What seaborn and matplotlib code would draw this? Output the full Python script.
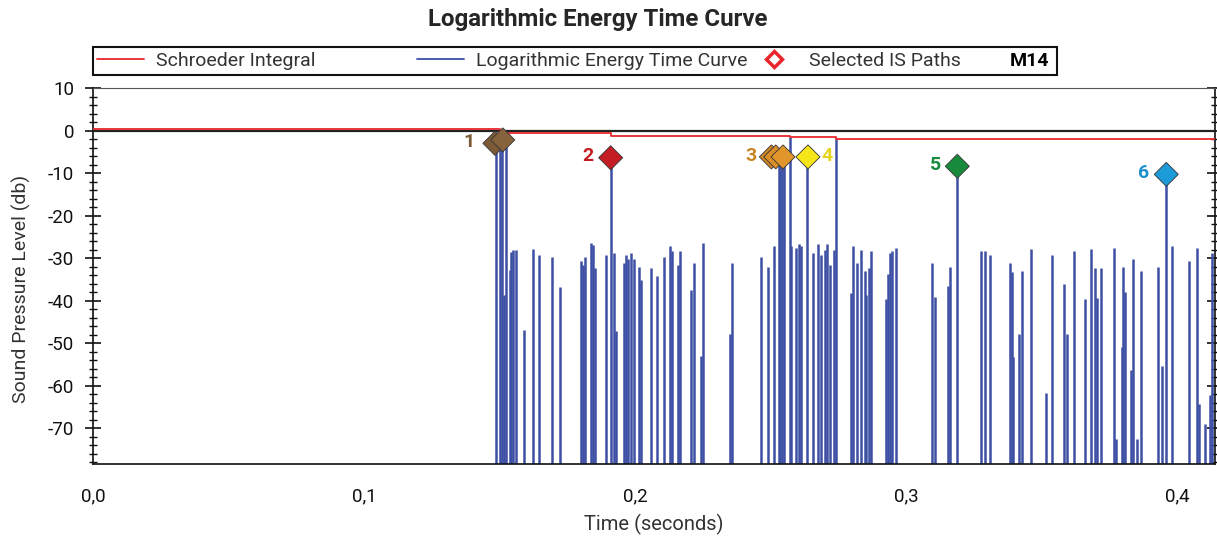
import numpy as np
import pandas as pd
import seaborn as sns
import matplotlib
matplotlib.use("Agg")
import matplotlib.pyplot as plt
from matplotlib.ticker import MultipleLocator, FuncFormatter
from matplotlib.lines import Line2D
from matplotlib.patches import Rectangle

# ---------------- data ----------------
etc_time = [0.1488, 0.1503, 0.1510, 0.1517, 0.1525, 0.1537, 0.1544, 0.1550, 0.1561, 0.1589,
            0.1625, 0.1644, 0.1695, 0.1724, 0.1802, 0.1808, 0.1817, 0.1836, 0.1844, 0.1851,
            0.1894, 0.1910, 0.1923, 0.1929, 0.1959, 0.1966, 0.1974, 0.1986, 0.1995, 0.2015,
            0.2023, 0.2058, 0.2080, 0.2107, 0.2129, 0.2137, 0.2158, 0.2165, 0.2208, 0.2217,
            0.2244, 0.2251, 0.2349, 0.2357, 0.2464, 0.2492, 0.2514, 0.2530, 0.2536, 0.2542,
            0.2548, 0.2572, 0.2577, 0.2593, 0.2605, 0.2614, 0.2635, 0.2656, 0.2676, 0.2686,
            0.2700, 0.2707, 0.2721, 0.2734, 0.2741, 0.2798, 0.2803, 0.2819, 0.2833, 0.2848,
            0.2853, 0.2862, 0.2870, 0.2925, 0.2932, 0.2940, 0.2948, 0.2962, 0.3096, 0.3105,
            0.3155, 0.3162, 0.3189, 0.3276, 0.3290, 0.3311, 0.3383, 0.3390, 0.3396, 0.3417,
            0.3426, 0.3460, 0.3517, 0.3539, 0.3582, 0.3595, 0.3619, 0.3659, 0.3682, 0.3696,
            0.3705, 0.3718, 0.3768, 0.3774, 0.3796, 0.3802, 0.3808, 0.3831, 0.3838, 0.3852,
            0.3866, 0.3931, 0.3945, 0.3960, 0.3982, 0.4044, 0.4073, 0.4080, 0.4102, 0.4123,
            0.4130]
etc_db = [-3.0, -2.6, -2.4, -38.6, -2.2, -32.8, -28.5, -28.0, -28.0, -46.8,
          -27.9, -29.3, -29.7, -36.8, -30.6, -31.5, -29.7, -26.5, -26.9, -32.4,
          -29.3, -6.4, -28.9, -47.2, -31.1, -29.3, -30.1, -28.9, -30.1, -32.0,
          -35.1, -32.4, -34.2, -29.7, -27.1, -28.3, -31.5, -28.3, -37.5, -31.1,
          -53.1, -26.5, -47.8, -31.1, -29.7, -32.0, -27.1, -6.5, -6.5, -6.5,
          -6.5, -1.6, -27.1, -27.5, -26.6, -27.1, -6.2, -28.9, -26.6, -29.3,
          -28.0, -26.6, -31.7, -28.0, -2.0, -38.3, -27.1, -31.1, -28.0, -33.0,
          -38.6, -32.4, -28.3, -39.7, -33.8, -28.9, -28.3, -27.5, -31.1, -39.2,
          -36.5, -32.0, -8.4, -28.3, -28.3, -29.3, -31.1, -33.3, -53.2, -47.8,
          -33.0, -27.9, -61.8, -29.3, -36.1, -47.8, -28.3, -39.7, -27.9, -32.4,
          -39.3, -32.4, -27.5, -72.6, -50.9, -32.0, -37.9, -56.2, -30.1, -72.6,
          -33.0, -32.0, -55.4, -10.3, -27.1, -30.6, -27.5, -64.2, -69.1, -62.2,
          -28.7]

schroeder_time = [0.0, 0.150, 0.191, 0.257, 0.274, 0.414]
schroeder_db = [0.4, -0.6, -1.2, -1.6, -2.0, -2.0]

path_time = [0.1483, 0.1512, 0.1910, 0.2503, 0.2519, 0.2546, 0.2638, 0.3189, 0.3960]
path_db = [-3.0, -2.2, -6.4, -6.2, -6.2, -6.2, -6.2, -8.4, -10.3]
path_colors = ["#7b5a36", "#86633c", "#c41e24", "#d08626", "#d98e28", "#e0962a",
               "#f6e619", "#178a3c", "#1c9bd8"]

label_text = ["1", "2", "3", "4", "5", "6"]
label_time = [0.1483, 0.1910, 0.2503, 0.2638, 0.3189, 0.3960]
label_db = [-3.0, -6.4, -6.2, -6.2, -8.4, -10.3]
label_colors = ["#7b5a36", "#c41e24", "#c98524", "#e6d51c", "#178a3c", "#1c8fcc"]
label_offset = [-19, -16, -15, 14, -16, -16]

x_ticks = [0.0, 0.1, 0.2, 0.3, 0.4]
y_ticks = [10, 0, -10, -20, -30, -40, -50, -60, -70]

legend_labels = ["Schroeder Integral", "Logarithmic Energy Time Curve", "Selected IS Paths"]
case_label = "M14"

# ---------------- style ----------------
sns.set_theme(style="white")
plt.rcParams["font.family"] = ["Roboto", "DejaVu Sans"]
plt.rcParams["axes.unicode_minus"] = False

fig = plt.figure(figsize=(12.17, 5.36), dpi=100)
ax = fig.add_axes([0.0764, 0.1343, 0.9220, 0.7015])

ymin, ymax = -78.4, 10
ax.set_xlim(0, 0.414)
ax.set_ylim(ymin, ymax)

blue = "#3d50a4"
red = "#e8262b"
# ETC bars
ax.vlines(etc_time, ymin - 2, etc_db, color=blue, lw=1.8, zorder=2)

# zero line
ax.axhline(0, color="#222222", lw=1.6, zorder=3)

# Schroeder integral
sch = pd.DataFrame({"t": schroeder_time, "db": schroeder_db})
sns.lineplot(data=sch, x="t", y="db", drawstyle="steps-post", color=red,
             lw=1.3, ax=ax, zorder=4)

# IS paths
pts = pd.DataFrame({"t": path_time, "db": path_db, "c": [str(i) for i in range(len(path_time))]})
sns.scatterplot(data=pts, x="t", y="db", hue="c", palette=path_colors, marker="D",
                s=150, edgecolor="#333333", linewidth=0.6, ax=ax, zorder=6, legend=False)

for txt, t, d, c, off in zip(label_text, label_time, label_db, label_colors, label_offset):
    ax.annotate(txt, (t, d), xytext=(off, 1), textcoords="offset points",
                ha="center", va="center", fontsize=14, fontweight="bold", color=c,
                zorder=7)

# axes cosmetics
for s in ax.spines.values():
    s.set_color("#111111")
    s.set_linewidth(1.2)
ax.spines["top"].set_color("#555555")
ax.spines["top"].set_linewidth(0.8)

ax.set_xticks(x_ticks)
ax.set_yticks(y_ticks)
ax.xaxis.set_major_formatter(FuncFormatter(lambda v, p: f"{v:.1f}".replace(".", ",")))
ax.xaxis.set_minor_locator(MultipleLocator(0.02))
ax.yaxis.set_minor_locator(MultipleLocator(2))
ax.tick_params(axis="both", which="major", direction="inout", length=11, width=1.2,
               color="#111111", labelsize=13.5, labelcolor="#111111", pad=4)
ax.tick_params(axis="both", which="minor", direction="inout", length=6, width=1.0,
               color="#111111")
ax.tick_params(axis="y", which="both", right=True, left=True)
ax.tick_params(axis="y", which="both", labelright=False)
ax.tick_params(axis="x", which="major", pad=11)
ax.tick_params(axis="y", which="major", pad=8)

ax.set_xlabel("Time (seconds)", fontsize=14.5, color="#333333")
ax.xaxis.set_label_coords(0.5, -0.132)
ax.set_ylabel("Sound Pressure Level (db)", fontsize=14, color="#333333")
ax.yaxis.set_label_coords(-0.055, 0.465)

fig.suptitle("Logarithmic Energy Time Curve", fontsize=17.3, fontweight="bold",
             y=0.985, x=0.491)

# legend (box + entries + case label)
ax.add_patch(Rectangle((0.0, 1.034), 0.859, 0.075, transform=ax.transAxes,
                       fill=False, edgecolor="#111111", lw=1.5, clip_on=False, zorder=10))
h_red = Line2D([0], [0], color=red, lw=1.3)
h_blue = Line2D([0], [0], color=blue, lw=1.3)
h_dia = Line2D([0], [0], ls="none", marker="D", markersize=8, markerfacecolor="white",
               markeredgecolor=red, markeredgewidth=2.5)
common = dict(frameon=False, fontsize=14, handlelength=2.4, handletextpad=0.6,
              borderpad=0.0, borderaxespad=0.0, loc="center left")
leg1 = ax.legend([h_red], legend_labels[:1], bbox_to_anchor=(0.004, 1.0715), **common)
for t in leg1.get_texts():
    t.set_color("#333333")
ax.add_artist(leg1)
leg2 = ax.legend([h_blue, h_dia], legend_labels[1:], ncol=2, columnspacing=0.2,
                 bbox_to_anchor=(0.289, 1.0715), **common)
for t in leg2.get_texts():
    t.set_color("#333333")
ax.text(0.852, 1.0715, case_label, transform=ax.transAxes, ha="right", va="center",
        fontsize=14, fontweight="bold", color="#000000")

fig.savefig("out.png", dpi=100)
